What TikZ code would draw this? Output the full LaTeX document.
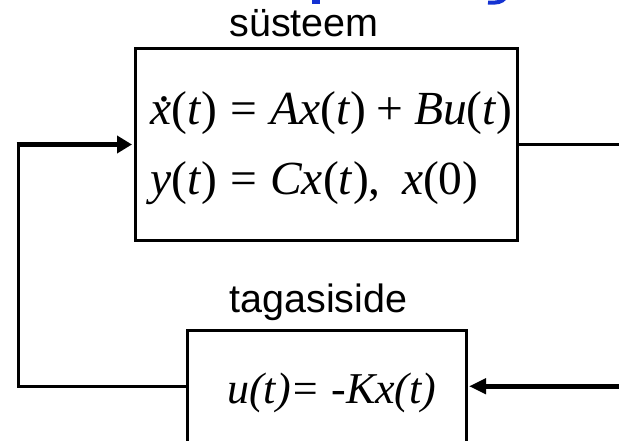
\documentclass[tikz,border=0pt]{standalone}
\usepackage{fontspec}
\setmainfont{Liberation Serif}
\newfontfamily\labelfont{Liberation Sans}
\usetikzlibrary{arrows.meta}
\definecolor{titleblue}{RGB}{20,50,210}
\newcommand{\xdotted}{\rlap{\hspace{0.17em}\raisebox{0.5em}{\upshape .}}\textit{x}}
\newcommand{\rel}[1]{\hspace{0.278em}#1\hspace{0.278em}}
\newcommand{\bin}[1]{\hspace{0.222em}#1\hspace{0.222em}}
\begin{document}
\begin{tikzpicture}[x=1pt,y=-1pt,
  blk/.style={draw=black, line width=3pt, inner sep=0pt, fill=none},
  lbl/.style={font=\labelfont\fontsize{39.5}{46}\selectfont, inner sep=0pt, anchor=base},
  eqn/.style={font=\fontsize{47.5}{56}\selectfont, inner sep=0pt, anchor=base west},
  fbeqn/.style={font=\fontsize{44}{52}\selectfont\itshape, inner sep=0pt, anchor=base west},
  wire/.style={draw=black, line width=3pt, line join=miter},
  heavy/.style={draw=black, line width=4.8pt},
  frag/.style={titleblue}
]
\useasboundingbox (0,0) rectangle (619,441);
% fragments of the cut-off blue title
\fill[frag] (312,-2) rectangle (319.5,4);
\draw[frag, line width=4pt] (488,2.5) .. controls (497,3.2) and (502,2) .. (505,-2);

% blocks
\node[blk, minimum width=382pt, minimum height=191pt] (sys) at (326,144.5) {};
\node[blk, minimum width=279pt, minimum height=112.5pt] (fb) at (326.5,386.25) {};

% labels
\node[lbl] (syslbl) at (304,37) {süsteem};
\node[lbl] (fblbl) at (318.5,312) {tagasiside};

% equations
\node[eqn] (eq1) at (150,125) {\xdotted(\textit{t})\rel{=}\textit{Ax}(\textit{t})\bin{+}\textit{Bu}(\textit{t})};
\node[eqn] (eq2) at (150,195) {\textit{y}(\textit{t})\rel{=}\textit{Cx}(\textit{t}),\hspace{0.45em}\textit{x}(0)};
\node[fbeqn] (eq3) at (227,403) {u(t)= -Kx(t)};

% connectors
\coordinate (out) at (620,144.5);
\coordinate (xin) at (620,386.25);
\coordinate (c1) at (18,386.25);
\coordinate (c2) at (18,144.5);

\draw[wire] (sys.east) -- (out);
\draw[heavy, -{Triangle[length=17pt,width=15pt]}] (xin) -- ([xshift=1.5pt]fb.east);
\draw[wire] (fb.west) -- (c1) -- (c2);
\draw[heavy, -{Triangle[length=15pt,width=17pt]}] ([xshift=-1.5pt]c2) -- ([xshift=-1.5pt]sys.west);
\end{tikzpicture}
\end{document}
